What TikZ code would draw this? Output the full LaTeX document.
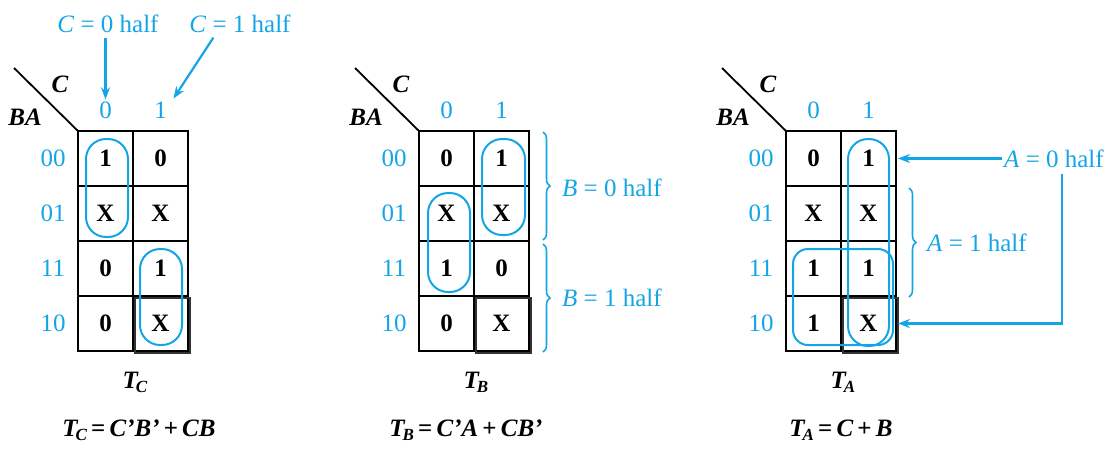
\documentclass[tikz,border=0pt]{standalone}
\usepackage{fontspec}
\setmainfont{Liberation Serif}
\usetikzlibrary{arrows.meta,decorations.pathreplacing}
\definecolor{kblue}{RGB}{20,165,230}
\newcommand\Tsub[1]{\textit{T}\kern-0.08em\raisebox{-0.35ex}{\fontsize{17}{17}\selectfont\textit{#1}}}
\newcommand\KMap[4]{% #1 prefix, #2 x0, #3 values, #4 T label
 \begin{scope}[name prefix=#1-]
  \foreach \v [count=\i from 0] in {#3} {
    \pgfmathtruncatemacro\rr{int(\i/2)}
    \pgfmathtruncatemacro\cc{mod(\i,2)}
    \node[cell] (r\rr c\cc) at ({#2+27.5+55*\cc},{158.5+55*\rr}) {\v};
  }
  \foreach \lab [count=\r from 0] in {00,01,11,10}
    \node[bl] (rl\r) at ({#2-25},{158.5+55*\r}) {\lab};
  \node[bl] (cl0) at ({#2+27.5},110) {0};
  \node[bl] (cl1) at ({#2+82.5},110) {1};
  \node[hd] (cv) at ({#2-18},84) {C};
  \node[hd] (rv) at ({#2-53},117) {BA};
  \coordinate (dg) at ({#2-64},68);
  \draw[diag] (dg) -- (r0c0.north west);
  \draw[line width=1.3pt, black!80] ([shift={(2,2)}]r3c1.north west) rectangle ([shift={(2,2)}]r3c1.south east);
  \node[hd] (tl) at ({#2+57},382) {\Tsub{#4}};
 \end{scope}}
\begin{document}
\begin{tikzpicture}[x=1pt,y=-1pt,
  every node/.style={font=\fontsize{25}{29}\selectfont},
  cell/.style={draw, line width=2.3pt, minimum width=55pt, minimum height=55pt, inner sep=0pt, outer sep=0pt, font=\fontsize{25}{29}\selectfont\bfseries},
  bl/.style={text=kblue, inner sep=2pt},
  hd/.style={font=\fontsize{25}{29}\selectfont\bfseries\itshape, inner sep=1pt},
  eq/.style={font=\fontsize{25}{29}\selectfont\bfseries\itshape},
  loopb/.style={draw=kblue, line width=2pt, rounded corners=20pt},
  arr/.style={draw=kblue, line width=2.2pt, -{Stealth[length=12pt,width=9pt]}},
  brc/.style={draw=kblue, line width=1.6pt, decorate, decoration={brace, amplitude=7pt}},
  diag/.style={line width=1.8pt}]
\useasboundingbox (0,0) rectangle (1118,448);

\KMap{m1}{78}{1,0,X,X,0,1,0,X}{C}
\KMap{m2}{419}{0,1,X,X,1,0,0,X}{B}
\KMap{m3}{786}{0,1,X,X,1,1,1,X}{A}

% loops
\draw[loopb] (86,139) rectangle (128,237);
\draw[loopb] (140,249) rectangle (182,345);
\draw[loopb] (482,139) rectangle (525,235);
\draw[loopb] (428,193) rectangle (470,292);
\draw[loopb] (848,139) rectangle (889,346);
\draw[loopb, rounded corners=15pt] (793,249) rectangle (893,345);

% top labels
\node[bl] (c0h) at (108,24) {\textit{C} = 0 half};
\node[bl] (c1h) at (240,24) {\textit{C} = 1 half};
\draw[arr, shorten <=3pt] (m1-cl0 |- c0h.south) -- (m1-cl0.north);
\draw[arr, shorten <=3pt] ([xshift=-25]c1h.south) -- ([shift={(13,-1)}]m1-cl1.north);

% map 2 braces
\draw[brc] (543,132) -- (543,240);
\draw[brc] (543,244) -- (543,352);
\node[bl, anchor=west] (b0h) at (560,188) {\textit{B} = 0 half};
\node[bl, anchor=west] (b1h) at (560,298) {\textit{B} = 1 half};

% map 3
\node[bl, anchor=west] (a0h) at (1002,158.5) {\textit{A} = 0 half};
\draw[arr, shorten >=2pt] (a0h.west) -- (m3-r0c1.east);
\draw[arr, shorten >=2pt, shorten <=4pt] ([xshift=8]a0h.south) |- (m3-r3c1.east);
\draw[brc] (909,188) -- (909,297);
\node[bl, anchor=west] (a1h) at (925,243) {\textit{A} = 1 half};

% equations
\node[eq] (e1) at (139,430) {\Tsub{C}\,\textup{=}\,C’B’\,\textup{+}\,CB};
\node[eq] (e2) at (466,430) {\Tsub{B}\,\textup{=}\,C’A\,\textup{+}\,CB’};
\node[eq] (e3) at (841,430) {\Tsub{A}\,\textup{=}\,C\,\textup{+}\,B};
\end{tikzpicture}
\end{document}
